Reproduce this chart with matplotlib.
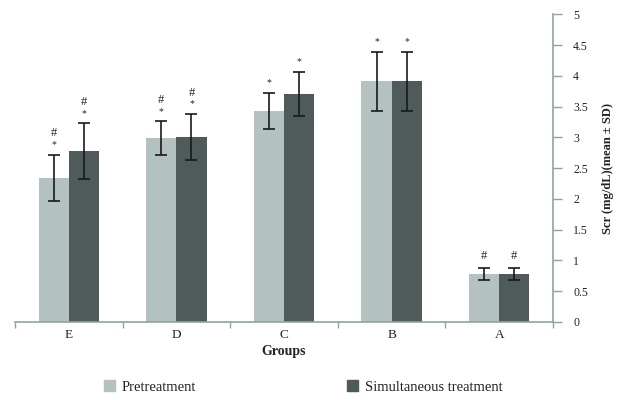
import matplotlib

matplotlib.use('Agg')
import matplotlib.pyplot as plt
from matplotlib.patches import Patch
import numpy as np

# 数据
groups = ['E', 'D', 'C', 'B', 'A']
pre_mean = [2.34, 2.99, 3.43, 3.91, 0.78]
pre_sd = [0.38, 0.27, 0.30, 0.48, 0.10]
sim_mean = [2.78, 3.01, 3.71, 3.91, 0.78]
sim_sd = [0.45, 0.37, 0.36, 0.48, 0.10]
# 显著性标记: '*' 与 '#'
pre_marks = ['#*', '#*', '*', '*', '#']
sim_marks = ['#*', '#*', '*', '*', '#']

plt.rcParams['font.family'] = ['Liberation Serif', 'DejaVu Serif']

pre_color = '#b3c1c0'
sim_color = '#4f5b5b'
axis_color = '#8fa3a3'
text_color = '#222222'

fig = plt.figure(figsize=(6.21, 4.0), dpi=100)
ax = fig.add_axes([0.0242, 0.195, 0.8663, 0.769])

x = np.arange(len(groups))
w = 0.28

ax.bar(x - w / 2, pre_mean, w, color=pre_color, label='Pretreatment')
ax.bar(x + w / 2, sim_mean, w, color=sim_color, label='Simultaneous treatment')
err_kw = dict(fmt='none', ecolor='#1a1a1a', elinewidth=1.2, capsize=4, capthick=1.2)
ax.errorbar(x - w / 2, pre_mean, yerr=pre_sd, **err_kw)
ax.errorbar(x + w / 2, sim_mean, yerr=sim_sd, **err_kw)


def draw_marks(xs, means, sds, marks):
    for xi, m, s, mk in zip(xs, means, sds, marks):
        top = m + s
        off = 4
        if '*' in mk:
            ax.annotate('*', (xi, top), xytext=(0, off), textcoords='offset points',
                        ha='center', va='bottom', fontsize=7, color=text_color)
            off += 7
        if '#' in mk:
            ax.annotate('#', (xi, top), xytext=(0, off), textcoords='offset points',
                        ha='center', va='bottom', fontsize=9, color=text_color)


draw_marks(x - w / 2, pre_mean, pre_sd, pre_marks)
draw_marks(x + w / 2, sim_mean, sim_sd, sim_marks)

ax.set_xlim(-0.5, len(groups) - 0.5)
ax.set_ylim(0, 5)
ax.set_xticks(x)
ax.set_xticklabels(groups, fontsize=9.5, color=text_color)
ax.set_xticks(np.arange(-0.5, len(groups), 1.0), minor=True)
ax.tick_params(axis='x', which='major', length=0, pad=5)
ax.tick_params(axis='x', which='minor', length=4, width=1, color=axis_color, direction='out')

ax.yaxis.tick_right()
ax.yaxis.set_label_position('right')
ax.set_yticks(np.arange(0, 5.01, 0.5))
ax.set_yticklabels(['0', '0.5', '1', '1.5', '2', '2.5', '3', '3.5', '4', '4.5', '5'],
                   fontsize=8.5, color=text_color)
ax.tick_params(axis='y', length=6.5, width=1, color=axis_color, direction='out', pad=8)

for side in ['top', 'left']:
    ax.spines[side].set_visible(False)
for side in ['bottom', 'right']:
    ax.spines[side].set_color(axis_color)
    ax.spines[side].set_linewidth(1.2)

ax.set_xlabel('Groups', fontsize=10, fontweight='bold', color=text_color, labelpad=3)
ax.set_ylabel('Scr (mg/dL)(mean ± SD)', fontsize=9, fontweight='bold', color=text_color,
              labelpad=10)

leg_kw = dict(frameon=False, fontsize=10.5, handlelength=0.8, handleheight=0.8,
              handletextpad=0.45, labelcolor=text_color)
fig.legend(handles=[Patch(color=pre_color)], labels=['Pretreatment'],
           loc='center left', bbox_to_anchor=(0.146, 0.033), **leg_kw)
fig.legend(handles=[Patch(color=sim_color)], labels=['Simultaneous treatment'],
           loc='center left', bbox_to_anchor=(0.537, 0.033), **leg_kw)

fig.savefig('out.png', dpi=100)
